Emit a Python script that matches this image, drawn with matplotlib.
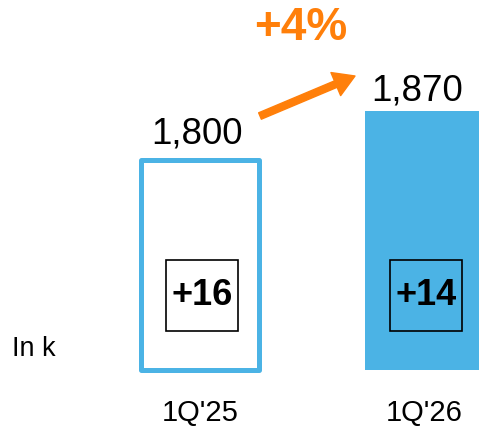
import matplotlib.pyplot as plt
from matplotlib.patches import Rectangle

plt.rcParams['font.family'] = ['Liberation Sans', 'DejaVu Sans']

quarters = ["1Q'25", "1Q'26"]
values = [1800, 1870]
value_labels = ['1,800', '1,870']
deltas = ['+16', '+14']
growth = '+4%'
unit = 'In k'

blue = '#4BB3E5'
orange = '#FF7F0A'
base = 1500

fig = plt.figure(figsize=(4.79, 4.26), dpi=100)
ax = fig.add_axes([0, 56 / 426, 1, 370 / 426])
ax.set_xlim(-200 / 224, 279 / 224)
ax.set_ylim(base, base + 370 * 1.43)

x = range(len(values))
heights = [v - base for v in values]
bars = ax.bar(x, heights, bottom=base, width=118 / 224,
              color=['white', blue], edgecolor=[blue, blue],
              linewidth=[3.6, 0], joinstyle='round')
for b in bars:
    b.set_clip_on(False)

# value labels above each bar
offsets = [(-2, 6), (-5, 2)]
for xi, v, lab, off in zip(x, values, value_labels, offsets):
    ax.annotate(lab, (xi, v), xytext=off, textcoords='offset points',
                ha='center', va='bottom', fontsize=26.5)

# boxed deltas inside the bars
box_w, box_h, box_y = 72 / 224, 71 * 1.43, 1606
for xi, d in zip(x, deltas):
    cx = xi + 2 / 224
    ax.add_patch(Rectangle((cx - box_w / 2, box_y - box_h / 2), box_w, box_h,
                           facecolor='none', edgecolor='black', lw=1.2))
    ax.text(cx, box_y, d, ha='center', va='center', fontsize=26,
            fontweight='bold')

# growth arrow between bars
ax.annotate('', xy=(155 / 224, base + 294 * 1.43),
            xytext=(60 / 224, base + 254 * 1.43),
            arrowprops=dict(arrowstyle='simple,head_width=18,head_length=15,tail_width=5',
                            mutation_scale=1, color=orange, shrinkA=0, shrinkB=0))
fig.text(301 / 479, 1 - 28 / 426, growth, ha='center', va='center',
         fontsize=33, fontweight='bold', color=orange)

ax.set_xticks(list(x))
ax.set_xticklabels(quarters, fontsize=21)
ax.tick_params(axis='x', length=0, pad=21)
ax.tick_params(axis='y', left=False, labelleft=False)
for s in ax.spines.values():
    s.set_visible(False)

fig.text(12 / 479, 1 - 349 / 426, unit, ha='left', va='center', fontsize=19.5)

fig.savefig('out.png', dpi=100)
